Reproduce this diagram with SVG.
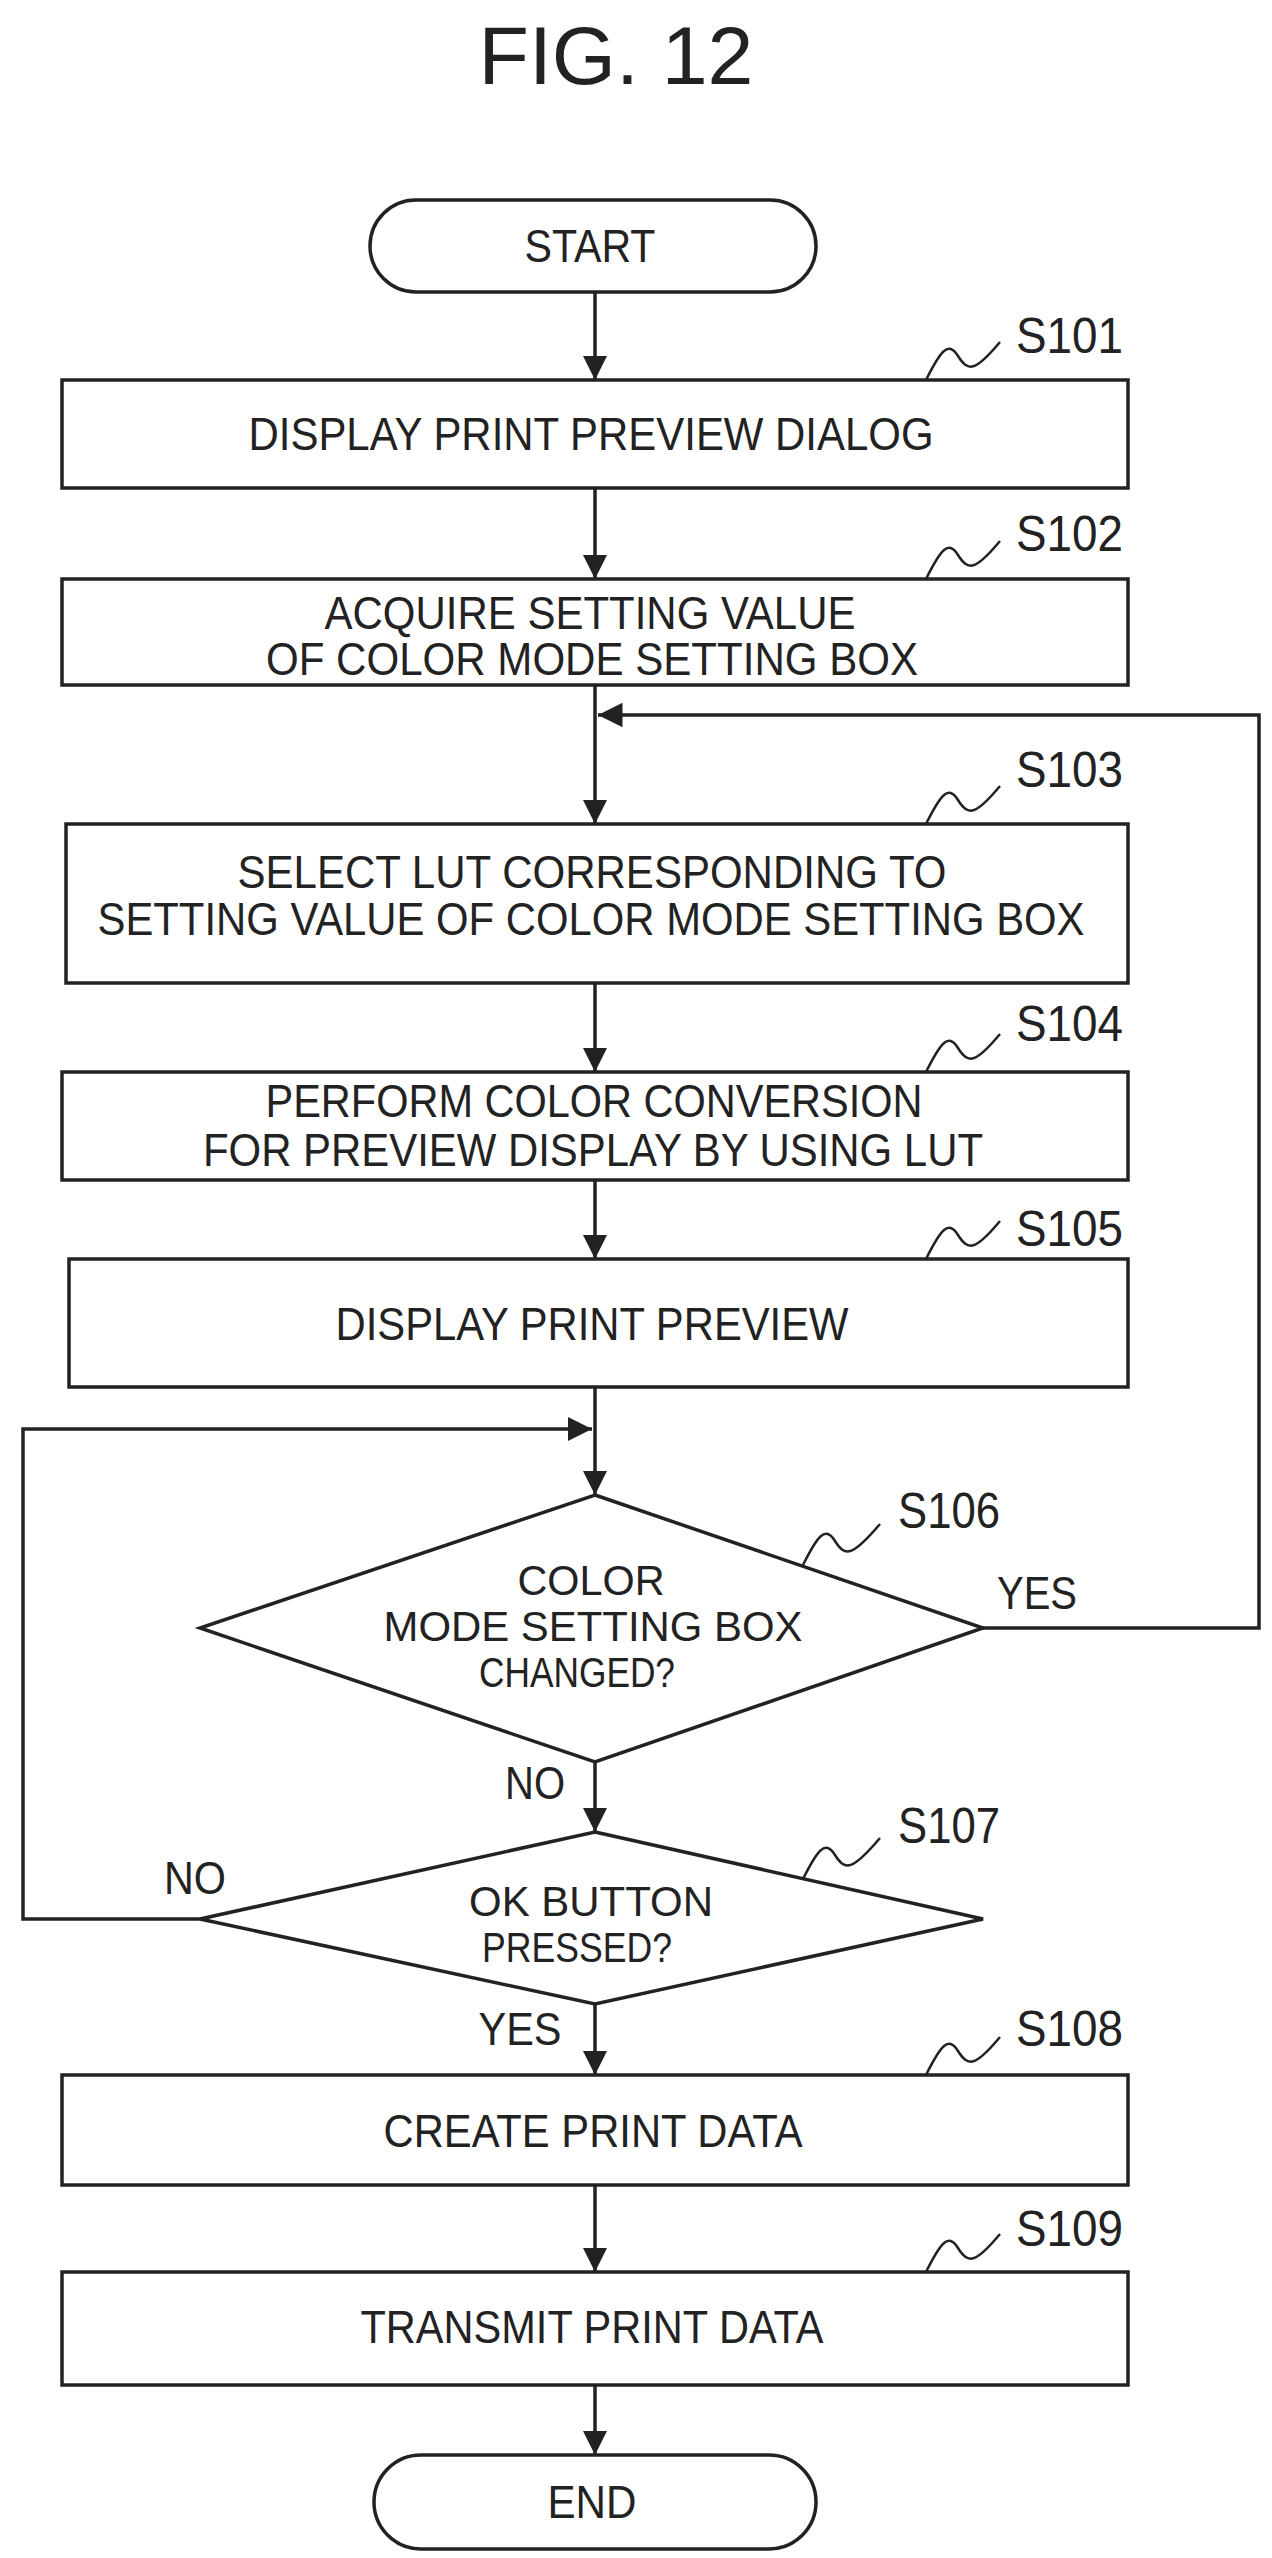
<svg xmlns="http://www.w3.org/2000/svg" width="1272" height="2558" viewBox="0 0 1272 2558">
<style>
.s{fill:#fff;stroke:#222;stroke-width:3.5}
.t{font-family:"Liberation Sans",Arial,sans-serif;font-size:46px;fill:#222;text-anchor:middle;dominant-baseline:central}
.d{font-size:42px}
.l{font-family:"Liberation Sans",Arial,sans-serif;font-size:50px;fill:#222;dominant-baseline:central}
.c{fill:none;stroke:#222;stroke-width:3.5}
.q{fill:none;stroke:#222;stroke-width:2.5}
</style>
<defs><marker id="b" viewBox="0 0 10 10" refX="10" refY="5" markerWidth="7" markerHeight="7" orient="auto"><path d="M0,0L10,5L0,10z" fill="#222"/></marker></defs>
<text x="616" y="55" class="t" style="font-size:82px" textLength="275" lengthAdjust="spacingAndGlyphs">FIG. 12</text>
<g id="connectors">
<path class="c" marker-end="url(#b)" d="M595,292V380"/>
<path class="c" marker-end="url(#b)" d="M595,488V579"/>
<path class="c" marker-end="url(#b)" d="M595,685V824"/>
<path class="c" marker-end="url(#b)" d="M595,983V1072"/>
<path class="c" marker-end="url(#b)" d="M595,1180V1259"/>
<path class="c" marker-end="url(#b)" d="M595,1387V1495"/>
<path class="c" marker-end="url(#b)" d="M595,1762V1832"/>
<path class="c" marker-end="url(#b)" d="M595,2004V2075"/>
<path class="c" marker-end="url(#b)" d="M595,2185V2272"/>
<path class="c" marker-end="url(#b)" d="M595,2385V2455"/>
<path class="c" marker-end="url(#b)" d="M983,1628H1259V715H598"/>
<path class="c" marker-end="url(#b)" d="M200,1919H23V1429H592"/>
</g>
<g id="start"><rect class="s" x="370" y="200" width="446" height="92" rx="46"/><text class="t" x="590" y="246" textLength="131" lengthAdjust="spacingAndGlyphs">START</text></g>
<g id="s101"><rect class="s" x="62" y="380" width="1066" height="108"/><text class="t" x="591" y="434" textLength="685" lengthAdjust="spacingAndGlyphs">DISPLAY PRINT PREVIEW DIALOG</text>
<path class="q" d="M926,380C940,352 948,340 958,356S975,372 1000,342"/><text class="l" x="1016" y="336" textLength="107" lengthAdjust="spacingAndGlyphs">S101</text></g>
<g id="s102"><rect class="s" x="62" y="579" width="1066" height="106"/><text class="t" x="590" y="613" textLength="531" lengthAdjust="spacingAndGlyphs">ACQUIRE SETTING VALUE</text><text class="t" x="592" y="659" textLength="652" lengthAdjust="spacingAndGlyphs">OF COLOR MODE SETTING BOX</text>
<path class="q" d="M926,579C940,551 948,539 958,555S975,571 1000,541"/><text class="l" x="1016" y="534" textLength="107" lengthAdjust="spacingAndGlyphs">S102</text></g>
<g id="s103"><rect class="s" x="66" y="824" width="1062" height="159"/><text class="t" x="592" y="872" textLength="709" lengthAdjust="spacingAndGlyphs">SELECT LUT CORRESPONDING TO</text><text class="t" x="591" y="919" textLength="987" lengthAdjust="spacingAndGlyphs">SETTING VALUE OF COLOR MODE SETTING BOX</text>
<path class="q" d="M926,824C940,796 948,784 958,800S975,816 1000,786"/><text class="l" x="1016" y="770" textLength="107" lengthAdjust="spacingAndGlyphs">S103</text></g>
<g id="s104"><rect class="s" x="62" y="1072" width="1066" height="108"/><text class="t" x="594" y="1101" textLength="657" lengthAdjust="spacingAndGlyphs">PERFORM COLOR CONVERSION</text><text class="t" x="593" y="1150" textLength="780" lengthAdjust="spacingAndGlyphs">FOR PREVIEW DISPLAY BY USING LUT</text>
<path class="q" d="M926,1072C940,1044 948,1032 958,1048S975,1064 1000,1034"/><text class="l" x="1016" y="1024" textLength="107" lengthAdjust="spacingAndGlyphs">S104</text></g>
<g id="s105"><rect class="s" x="69" y="1259" width="1059" height="128"/><text class="t" x="592" y="1324" textLength="513" lengthAdjust="spacingAndGlyphs">DISPLAY PRINT PREVIEW</text>
<path class="q" d="M926,1259C940,1231 948,1219 958,1235S975,1251 1000,1221"/><text class="l" x="1016" y="1229" textLength="107" lengthAdjust="spacingAndGlyphs">S105</text></g>
<g id="s106"><path class="s" d="M595,1495L983,1628L595,1762L200,1628Z"/><text class="t d" x="591" y="1580" textLength="147" lengthAdjust="spacingAndGlyphs">COLOR</text><text class="t d" x="593" y="1626" textLength="419" lengthAdjust="spacingAndGlyphs">MODE SETTING BOX</text><text class="t d" x="577" y="1672" textLength="196" lengthAdjust="spacingAndGlyphs">CHANGED?</text>
<path class="q" d="M803,1565C817,1537 825,1525 835,1541S852,1557 880,1524"/><text class="l" x="898" y="1511" textLength="102" lengthAdjust="spacingAndGlyphs">S106</text>
<text class="t" x="1037" y="1593" textLength="80" lengthAdjust="spacingAndGlyphs">YES</text><text class="t" x="535" y="1783" textLength="60" lengthAdjust="spacingAndGlyphs">NO</text></g>
<g id="s107"><path class="s" d="M595,1832L983,1919L595,2004L200,1919Z"/><text class="t d" x="591" y="1901" textLength="244" lengthAdjust="spacingAndGlyphs">OK BUTTON</text><text class="t d" x="577" y="1947" textLength="190" lengthAdjust="spacingAndGlyphs">PRESSED?</text>
<path class="q" d="M803,1879C817,1851 825,1839 835,1855S852,1871 880,1838"/><text class="l" x="898" y="1826" textLength="102" lengthAdjust="spacingAndGlyphs">S107</text>
<text class="t" x="195" y="1878" textLength="62" lengthAdjust="spacingAndGlyphs">NO</text><text class="t" x="520" y="2029" textLength="83" lengthAdjust="spacingAndGlyphs">YES</text></g>
<g id="s108"><rect class="s" x="62" y="2075" width="1066" height="110"/><text class="t" x="593" y="2131" textLength="419" lengthAdjust="spacingAndGlyphs">CREATE PRINT DATA</text>
<path class="q" d="M926,2075C940,2047 948,2035 958,2051S975,2067 1000,2037"/><text class="l" x="1016" y="2029" textLength="107" lengthAdjust="spacingAndGlyphs">S108</text></g>
<g id="s109"><rect class="s" x="62" y="2272" width="1066" height="113"/><text class="t" x="592" y="2327" textLength="463" lengthAdjust="spacingAndGlyphs">TRANSMIT PRINT DATA</text>
<path class="q" d="M926,2272C940,2244 948,2232 958,2248S975,2264 1000,2234"/><text class="l" x="1016" y="2229" textLength="107" lengthAdjust="spacingAndGlyphs">S109</text></g>
<g id="end"><rect class="s" x="374" y="2455" width="442" height="94" rx="47"/><text class="t" x="592" y="2502" textLength="89" lengthAdjust="spacingAndGlyphs">END</text></g>
</svg>
